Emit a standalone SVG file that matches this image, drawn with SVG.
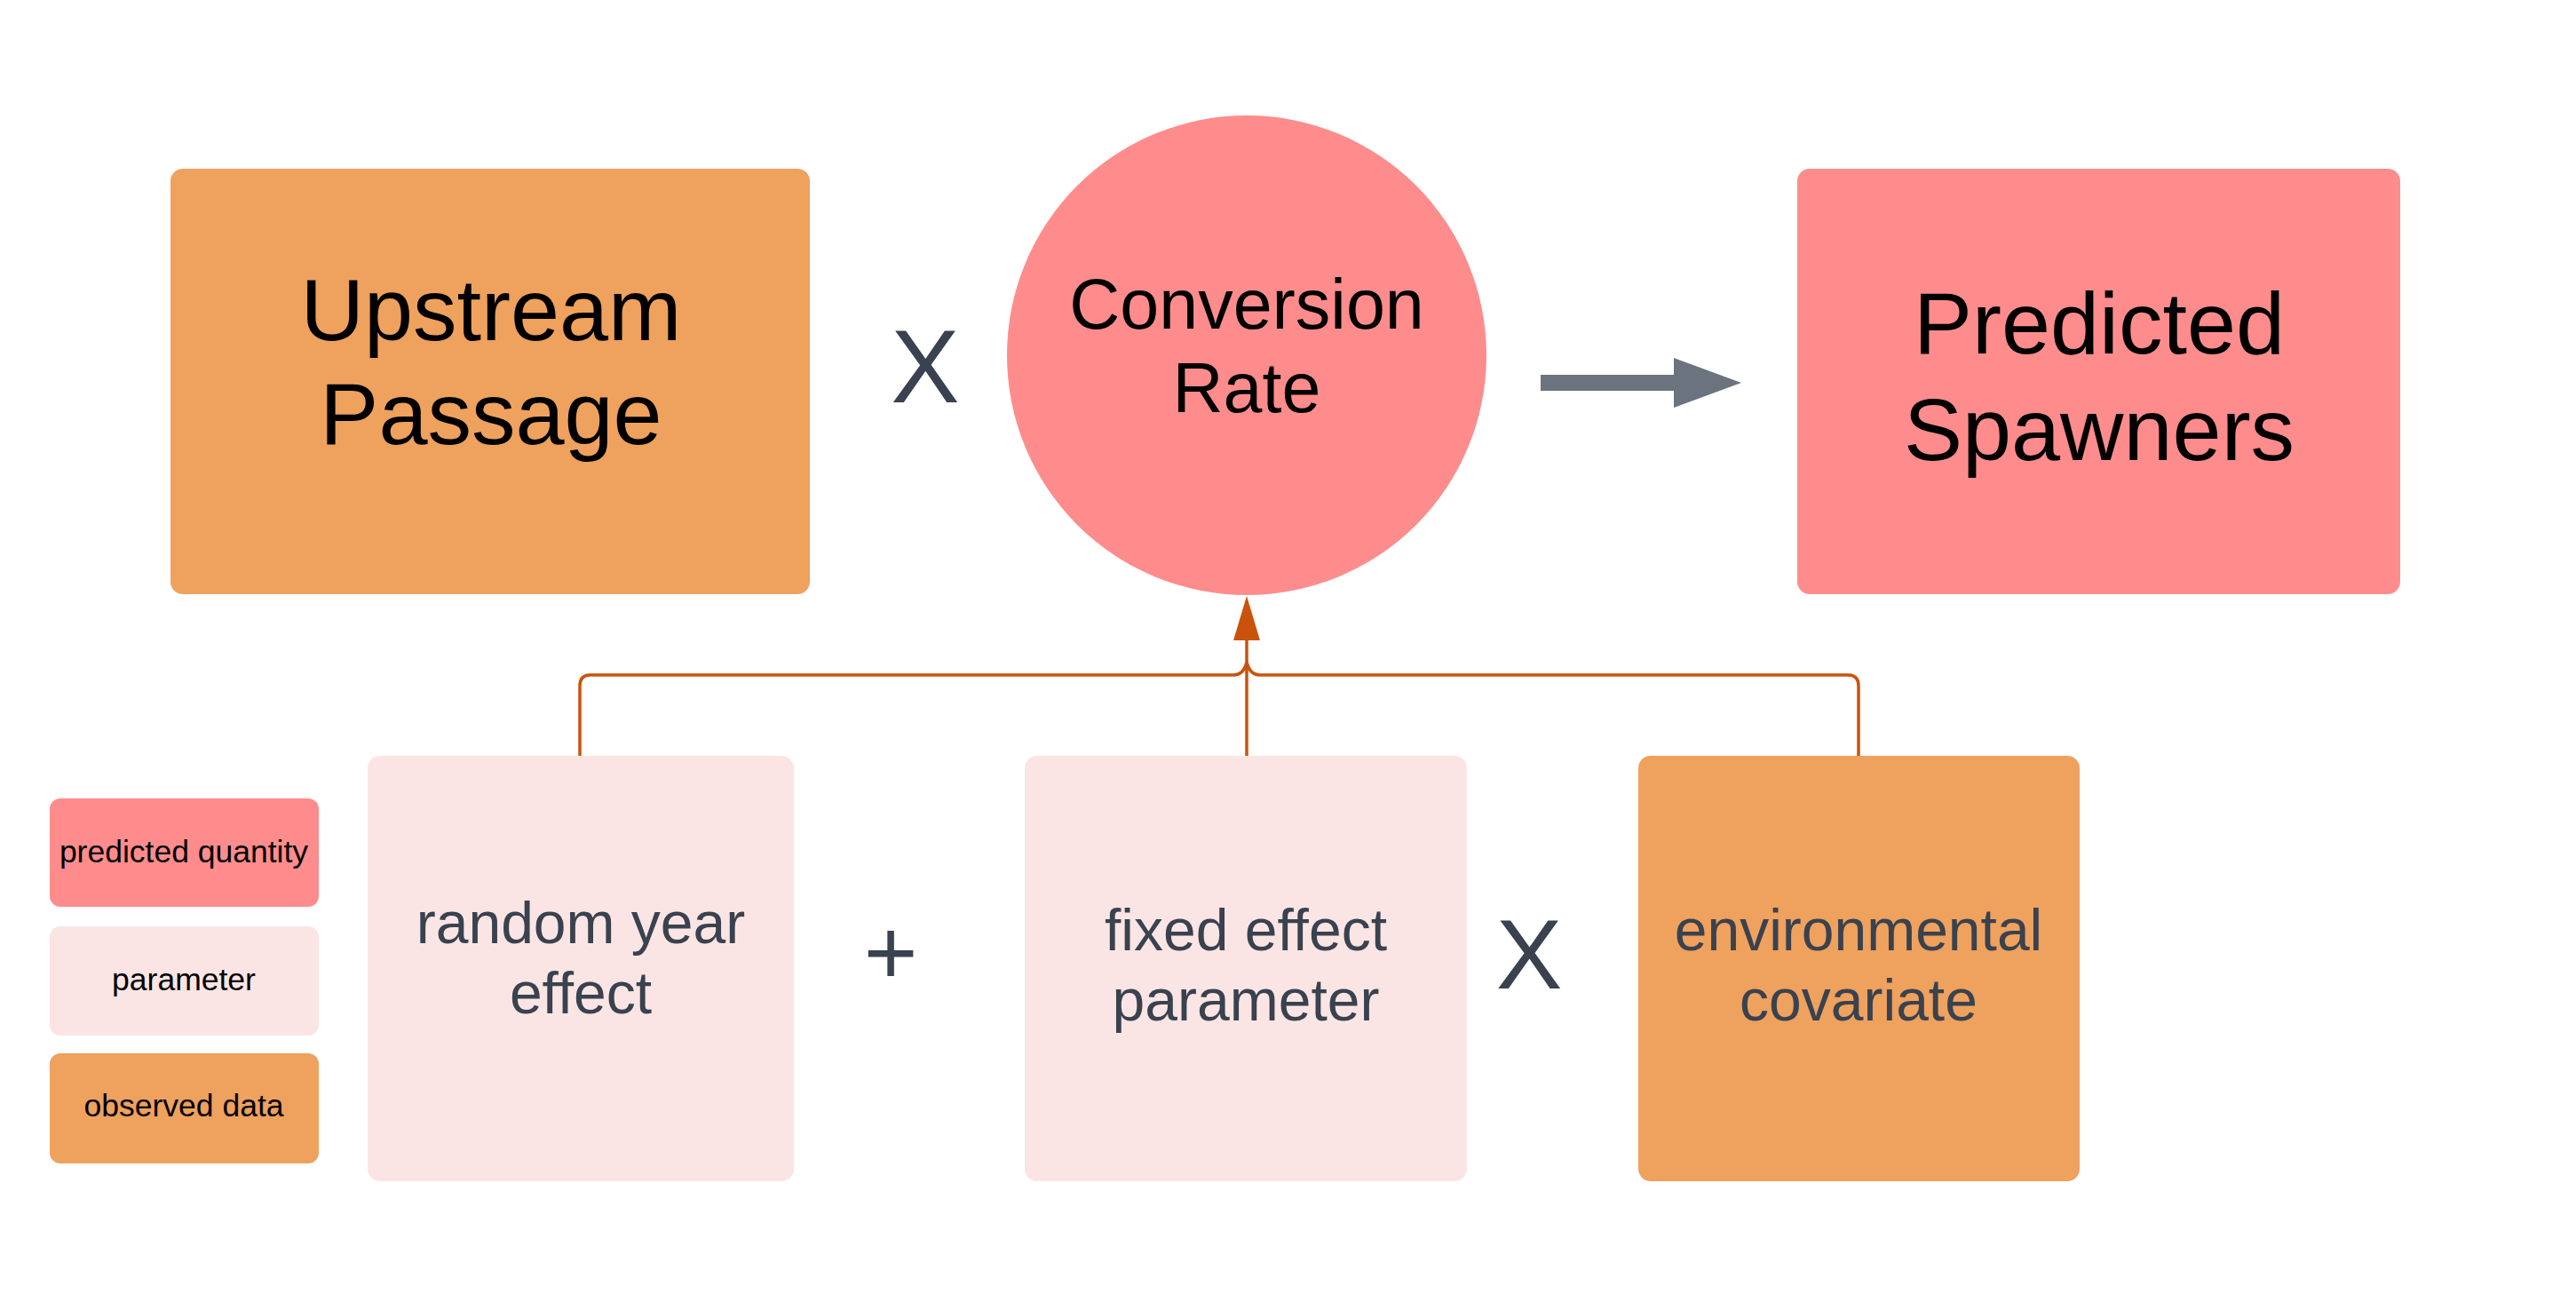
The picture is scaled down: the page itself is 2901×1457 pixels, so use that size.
<svg xmlns="http://www.w3.org/2000/svg" width="2901" height="1457" viewBox="0 0 2901 1457">
<defs>
<style>
.lbl{font-family:"Liberation Sans",Arial,sans-serif;text-anchor:middle;fill:#000}
.big{font-size:99px}
.mid{font-size:79px}
.sub{font-size:66px;fill:#39424e}
.leg{font-size:35.5px}
.op{font-family:"Liberation Sans",Arial,sans-serif;text-anchor:middle;fill:#39424e}
.obs{fill:#efa15e}
.pred{fill:#ff8c8c}
.par{fill:#fbe5e4}
.conn{fill:none;stroke:#c9530c;stroke-width:3.5}
</style>
<marker id="ah" viewBox="0 0 50 30" refX="0" refY="15" markerWidth="50" markerHeight="30" markerUnits="userSpaceOnUse" orient="auto">
<path d="M0,0 L50,15 L0,30 Z" fill="#c9530c"/>
</marker>
</defs>
<rect width="2901" height="1457" fill="#fff"/>

<g id="upstream-passage">
<rect class="obs" x="192" y="190" width="720" height="479" rx="14"/>
<text class="lbl big" x="553" y="383">Upstream</text>
<text class="lbl big" x="553" y="500">Passage</text>
</g>

<g id="op-times-1">
<text class="op" x="1042" y="453" font-size="116">X</text>
</g>

<g id="conversion-rate">
<circle class="pred" cx="1404" cy="400" r="270"/>
<text class="lbl mid" x="1404" y="370">Conversion</text>
<text class="lbl mid" x="1404" y="464">Rate</text>
</g>

<g id="predicted-spawners">
<rect class="pred" x="2024" y="190" width="679" height="479" rx="14"/>
<text class="lbl big" x="2364" y="398">Predicted</text>
<text class="lbl big" x="2364" y="518">Spawners</text>
</g>

<g id="legend-predicted">
<rect class="pred" x="56" y="899" width="303" height="122" rx="12"/>
<text class="lbl leg" x="207" y="971">predicted quantity</text>
</g>
<g id="legend-parameter">
<rect class="par" x="56" y="1043" width="303" height="123" rx="12"/>
<text class="lbl leg" x="207" y="1115">parameter</text>
</g>
<g id="legend-observed">
<rect class="obs" x="56" y="1186" width="303" height="124" rx="12"/>
<text class="lbl leg" x="207" y="1257">observed data</text>
</g>

<g id="random-year-effect">
<rect class="par" x="414" y="851" width="480" height="479" rx="14"/>
<text class="lbl sub" x="654" y="1062">random year</text>
<text class="lbl sub" x="654" y="1141">effect</text>
</g>

<g id="op-plus">
<text class="op" x="1003" y="1108" font-size="104">+</text>
</g>

<g id="fixed-effect-parameter">
<rect class="par" x="1154" y="851" width="498" height="479" rx="14"/>
<text class="lbl sub" x="1403" y="1070">fixed effect</text>
<text class="lbl sub" x="1403" y="1149">parameter</text>
</g>

<g id="op-times-2">
<text class="op" x="1722" y="1113" font-size="112">X</text>
</g>

<g id="environmental-covariate">
<rect class="obs" x="1845" y="851" width="497" height="479" rx="14"/>
<text class="lbl sub" x="2093" y="1070">environmental</text>
<text class="lbl sub" x="2093" y="1149">covariate</text>
</g>

<g id="connectors">
<path class="conn" d="M1404,851 L1404,721" marker-end="url(#ah)"/>
<path class="conn" d="M653,851 L653,772 Q653,760 665,760 L1390,760 Q1400,760 1404,746"/>
<path class="conn" d="M2093,851 L2093,772 Q2093,760 2081,760 L1418,760 Q1408,760 1404,746"/>
<g id="flow-arrow">
<rect x="1735" y="422" width="152" height="18" fill="#6b737e"/>
<path d="M1885,403 L1961,431 L1885,459 Z" fill="#6b737e"/>
</g>
</g>
</svg>
